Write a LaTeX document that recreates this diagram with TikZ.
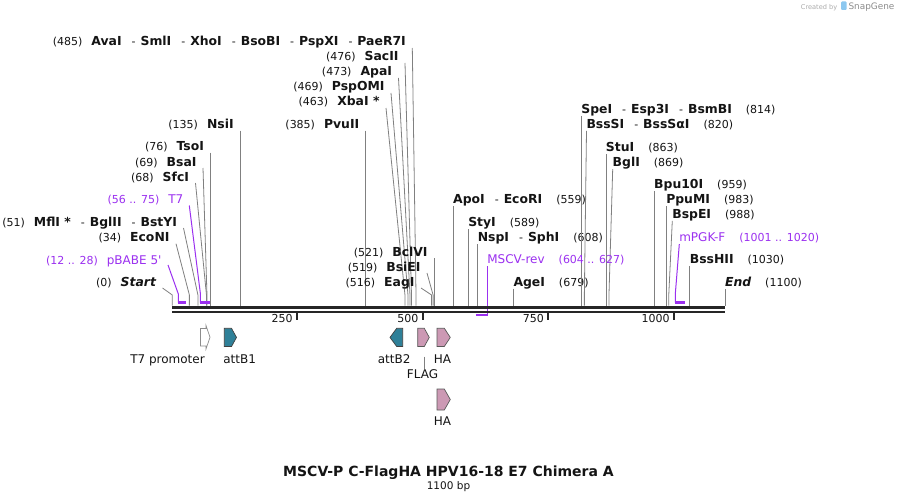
\documentclass[tikz,border=0pt]{standalone}
\usepackage{fontspec}
\setmainfont{DejaVu Sans}
\usetikzlibrary{calc}
\definecolor{prim}{RGB}{155,48,240}
\definecolor{leadgray}{RGB}{128,128,128}
\definecolor{bbone}{RGB}{38,38,38}
\definecolor{attcol}{RGB}{47,128,152}
\definecolor{tagcol}{RGB}{204,153,180}
\definecolor{txt}{RGB}{20,20,20}
\definecolor{sglogo}{RGB}{140,200,240}
\newcommand\nmf[1]{{\fontsize{12.4}{14}\selectfont\bfseries #1}}
\newcommand\nuf[1]{{\fontsize{11}{13}\selectfont #1}}
\newcommand\rsdash{\hspace{10pt}\nuf{-}\hspace{5pt}}
\newcommand\gapl{\hspace{9pt}}
\newcommand\gapr{\hspace{14pt}}
\newcommand\bpx[1]{172.3+0.5025*#1}
\tikzset{
  lab/.style={inner sep=0pt, outer sep=0pt, text=txt},
  plab/.style={inner sep=0pt, outer sep=0pt, text=prim, font=\fontsize{12}{14}\selectfont},
  flab/.style={inner sep=0pt, outer sep=0pt, text=txt, font=\fontsize{12}{14}\selectfont, anchor=base},
  lead/.style={draw=leadgray, line width=0.8pt},
  plead/.style={draw=prim, line width=1pt},
  pbar/.style={draw=prim, line width=2.2pt},
  bb/.style={draw=bbone},
  tickmark/.style={draw=bbone, line width=2pt},
  ticklab/.style={inner sep=0pt, text=txt, font=\fontsize{11}{13}\selectfont, anchor=base east},
  attbox/.style={fill=attcol, draw=black!75, line width=0.7pt, line join=miter},
  tagbox/.style={fill=tagcol, draw=black!65, line width=0.7pt, line join=miter},
  probox/.style={fill=white, draw=black!45, line width=0.7pt, line join=miter},
}
\newcommand\leftlab[5]{%
  \node[lab,anchor=base east] (#1) at ({#2-6.5},#3) {#5};
  \coordinate (#1-k) at ({\bpx{#4}},295);
  \coordinate (#1-s) at ({\bpx{#4}},305.7);
  \draw[lead] ($(#1.base east)+(6.5,2)$) -- (#1-k) -- (#1-s);}
\newcommand\rightlab[5]{%
  \node[lab,anchor=base west] (#1) at ({#2},#3) {#5};
  \coordinate (#1-k) at ({\bpx{#4}},295);
  \coordinate (#1-s) at ({\bpx{#4}},305.7);
  \draw[lead] ($(#1.base west)+(0,2.5)$) -- (#1-k) -- (#1-s);}
\newcommand\rarrow[6]{% x1, xh, x2, ytop, ybot, style
  \path[#6] (#1,#4) -- (#2,#4) -- (#3,{(#4+#5)/2}) -- (#2,#5) -- (#1,#5) -- cycle;}
\newcommand\larrow[6]{% tip, xh, x2, ytop, ybot, style
  \path[#6] (#3,#4) -- (#2,#4) -- (#1,{(#4+#5)/2}) -- (#2,#5) -- (#3,#5) -- cycle;}
\begin{document}
\begin{tikzpicture}[x=1pt,y=-1pt]
\useasboundingbox (0,0) rectangle (898,503);
\fill[white] (0,0) rectangle (898,503);

% credit
\node[inner sep=0pt, anchor=base west, text=black!33, font=\fontsize{6.6}{7}\selectfont] (cred) at (800.7,9.3) {Created by};
\fill[sglogo, rounded corners=1pt] (841,1.5) rectangle (846.5,10);
\node[inner sep=0pt, anchor=base west, text=black!45, font=\fontsize{8.9}{10}\selectfont] (sg) at (848.3,10) {SnapGene};

% leader lines and site labels, left side
\leftlab{L485}{412.3}{46}{485}{\nuf{(485)}\gapl\nmf{AvaI}\rsdash\nmf{SmlI}\rsdash\nmf{XhoI}\rsdash\nmf{BsoBI}\rsdash\nmf{PspXI}\rsdash\nmf{PaeR7I}}
\leftlab{L476}{405}{61}{476}{\nuf{(476)}\gapl\nmf{SacII}}
\leftlab{L473}{398.5}{76}{473}{\nuf{(473)}\gapl\nmf{ApaI}}
\leftlab{L469}{391}{91}{469}{\nuf{(469)}\gapl\nmf{PspOMI}}
\leftlab{L463}{386}{106}{463}{\nuf{(463)}\gapl\nmf{XbaI *}}
\leftlab{L135}{\bpx{135}}{128.7}{135}{\nuf{(135)}\gapl\nmf{NsiI}}
\leftlab{L385}{\bpx{385}}{128.7}{385}{\nuf{(385)}\gapl\nmf{PvuII}}
\leftlab{L76}{\bpx{76}}{150.7}{76}{\nuf{(76)}\gapl\nmf{TsoI}}
\leftlab{L69}{203}{166}{69}{\nuf{(69)}\gapl\nmf{BsaI}}
\leftlab{L68}{195.5}{181}{68}{\nuf{(68)}\gapl\nmf{SfcI}}
\leftlab{L51}{183.5}{226}{51}{\nuf{(51)}\gapl\nmf{MflI *}\rsdash\nmf{BglII}\rsdash\nmf{BstYI}}
\leftlab{L34}{176}{241.7}{34}{\nuf{(34)}\gapl\nmf{EcoNI}}
\leftlab{L0}{162.5}{286}{0}{\nuf{(0)}\gapl\nmf{\itshape Start}}
\leftlab{L521}{\bpx{521}}{256}{521}{\nuf{(521)}\gapl\nmf{BclVI}}
\leftlab{L519}{427}{271}{519}{\nuf{(519)}\gapl\nmf{BsiEI}}
\leftlab{L516}{421}{286}{516}{\nuf{(516)}\gapl\nmf{EagI}}

% right side
\rightlab{R559}{\bpx{559}}{203.5}{559}{\nmf{ApoI}\rsdash\nmf{EcoRI}\gapr\nuf{(559)}}
\rightlab{R589}{\bpx{589}}{226.5}{589}{\nmf{StyI}\gapr\nuf{(589)}}
\rightlab{R608}{\bpx{608}}{241.7}{608}{\nmf{NspI}\rsdash\nmf{SphI}\gapr\nuf{(608)}}
\rightlab{R679}{\bpx{679}}{286}{679}{\nmf{AgeI}\gapr\nuf{(679)}}
\rightlab{R814}{\bpx{814}}{113.3}{814}{\nmf{SpeI}\rsdash\nmf{Esp3I}\rsdash\nmf{BsmBI}\gapr\nuf{(814)}}
\rightlab{R820}{586.5}{128.3}{820}{\nmf{BssSI}\rsdash\nmf{BssSαI}\gapr\nuf{(820)}}
\rightlab{R863}{\bpx{863}}{151.7}{863}{\nmf{StuI}\gapr\nuf{(863)}}
\rightlab{R869}{612.7}{166.7}{869}{\nmf{BglI}\gapr\nuf{(869)}}
\rightlab{R959}{\bpx{959}}{188.7}{959}{\nmf{Bpu10I}\gapr\nuf{(959)}}
\rightlab{R983}{\bpx{983}}{203.7}{983}{\nmf{PpuMI}\gapr\nuf{(983)}}
\rightlab{R988}{672.3}{218.3}{988}{\nmf{BspEI}\gapr\nuf{(988)}}
\rightlab{R1030}{\bpx{1030}}{263.3}{1030}{\nmf{BssHII}\gapr\nuf{(1030)}}
\rightlab{R1100}{\bpx{1100}}{286.7}{1100}{\nmf{\itshape End}\gapr\nuf{(1100)}}

% primers
\node[plab,anchor=base east] (T7p) at (183.3,203.5) {\nuf{(56 .. 75)}\gapl T7};
\coordinate (T7a) at ({\bpx{56}},302.5);
\coordinate (T7b) at ({\bpx{75}},302.5);
\draw[plead] ($(T7p.base east)+(6,2)$) -- ($(T7a)+(0,-8.5)$) -- (T7a);
\draw[pbar] (T7a) -- (T7b);

\node[plab,anchor=base east] (pB) at (161.5,264) {\nuf{(12 .. 28)}\gapl pBABE 5\textquotesingle};
\coordinate (pBa) at ({\bpx{12}},302.5);
\coordinate (pBb) at ({\bpx{28}},302.5);
\draw[plead] ($(pB.base east)+(6.5,1)$) -- ($(pBa)+(0,-8.5)$) -- (pBa);
\draw[pbar] (pBa) -- (pBb);

\node[plab,anchor=base west] (MR) at ({\bpx{627}},263.5) {MSCV-rev\gapr\nuf{(604 .. 627)}};
\coordinate (MRa) at ({\bpx{604}},315.3);
\coordinate (MRb) at ({\bpx{627}},315.3);
\draw[plead] ($(MR.base west)+(0,2.5)$) -- ($(MRb)+(0,0.8)$);
\draw[pbar] (MRa) -- (MRb);

\node[plab,anchor=base west] (MP) at (679.3,241.7) {mPGK-F\gapr\nuf{(1001 .. 1020)}};
\coordinate (MPa) at ({\bpx{1001}},302.5);
\coordinate (MPb) at ({\bpx{1020}},302.5);
\draw[plead] ($(MP.base west)+(0,2.5)$) -- ($(MPa)+(0,-8.5)$) -- (MPa);
\draw[pbar] (MPa) -- (MPb);

% backbone
\coordinate (bbS) at (172.3,307.1);
\coordinate (bbE) at ({\bpx{1100}},307.1);
\draw[bb, line width=2.8pt] (bbS) -- (bbE);
\draw[bb, line width=2pt] ($(bbS)+(0,4.6)$) -- ($(bbE)+(0,4.6)$);

% ticks
\foreach \t in {250,500,750,1000}{
  \coordinate (tk\t) at ({\bpx{\t}-1},312);
  \draw[tickmark] (tk\t) -- ++(0,8);
  \node[ticklab] (tl\t) at ($(tk\t)+(-4,10.7)$) {\t};
}

% features
\path[probox] (200.5,328.5) -- (206,328.5) -- (206,325.5) -- (210,337.3) -- (206,349) -- (206,346) -- (200.5,346) -- cycle;
\rarrow{224.3}{231.5}{236.5}{328.3}{346.5}{attbox}
\larrow{390}{396.7}{402.7}{328.3}{346.5}{attbox}
\rarrow{417.7}{424.3}{429.3}{328.3}{346.5}{tagbox}
\rarrow{437}{444.3}{450.3}{328.3}{346.5}{tagbox}
\rarrow{437}{444.3}{450.3}{389}{410}{tagbox}

\node[flab] (T7prom) at (167.5,363.3) {T7 promoter};
\node[flab] (attB1) at (239.7,363.3) {attB1};
\node[flab] (attB2) at (394.2,363.3) {attB2};
\node[flab] (HA1) at (442.5,363.3) {HA};
\node[flab] (FLAGl) at (422.5,378.3) {FLAG};
\node[flab] (HA2) at (442.5,425) {HA};
\coordinate (FLAGb) at (424.3,356.7);
\draw[lead] (FLAGb) -- (FLAGb |- FLAGl.north);

% title
\node[inner sep=0pt, anchor=base, text=txt, font=\fontsize{14}{16}\selectfont\bfseries] (title) at (448.5,476.7) {MSCV-P C-FlagHA HPV16-18 E7 Chimera A};
\node[inner sep=0pt, anchor=base, text=txt, font=\fontsize{10.5}{12}\selectfont] (size) at (448.5,489.3) {1100 bp};
\end{tikzpicture}
\end{document}
